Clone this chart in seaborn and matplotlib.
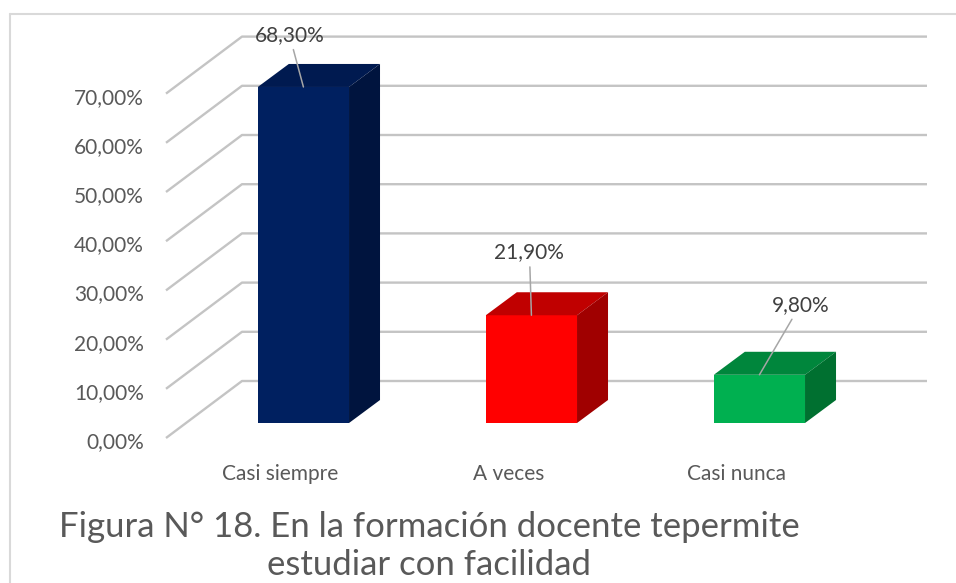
import numpy as np
import matplotlib.pyplot as plt
import seaborn as sns
from matplotlib.patches import Polygon
from matplotlib.lines import Line2D
from matplotlib.transforms import ScaledTranslation

categories = ['Casi siempre', 'A veces', 'Casi nunca']
values = [68.3, 21.9, 9.8]
value_labels = ['68,30%', '21,90%', '9,80%']
y_ticks = [0, 10, 20, 30, 40, 50, 60, 70]
y_tick_labels = ['0,00%', '10,00%', '20,00%', '30,00%', '40,00%', '50,00%', '60,00%', '70,00%']
title = 'Figura N° 18. En la formación docente tepermite\nestudiar con facilidad'

front_colors = ['#002060', '#FF0000', '#00B050']
top_colors = ['#001A50', '#C00000', '#00863C']
side_colors = ['#00143E', '#A00000', '#007030']
label_offsets = [(-14, 52), (-2, 63), (41, 70)]  # pixels from bar top

sns.set_theme(style='white')
plt.rcParams['font.family'] = ['Lato', 'DejaVu Sans']
txt_color = '#595959'

fig = plt.figure(figsize=(9.56, 5.83), dpi=100)
W, H = 956, 583
ax = fig.add_axes([186 / W, (583 - 423) / H, 685 / W, 344.4 / H])

sns.barplot(x=categories, y=values, hue=categories, palette=front_colors, legend=False,
            width=0.4, saturation=1, linewidth=0, ax=ax, zorder=2)

xl, xr = -0.515, -0.515 + 685 / 228
ax.set_xlim(xl, xr)
ax.set_ylim(0, 70)
px_x = 685 / (xr - xl)
px_y = 344.4 / 70

# gridlines: slanted side wall + back wall
for v in y_ticks:
    ax.plot([xl - 20 / px_x, xl + 56 / px_x, xr + 56 / px_x],
            [v - 15 / px_y, v + 42 / px_y, v + 42 / px_y],
            color='#C4C4C4', lw=1.7, clip_on=False, zorder=0.5, solid_capstyle='butt')

# 3D faces of the bars
ddx, ddy = 31 / px_x, 23 / px_y
for p, tc, sc in zip(ax.patches, top_colors, side_colors):
    x0, w, h = p.get_x(), p.get_width(), p.get_height()
    x1 = x0 + w
    ax.add_patch(Polygon([(x0, h), (x1, h), (x1 + ddx, h + ddy), (x0 + ddx, h + ddy)],
                         closed=True, fc=tc, ec='none', zorder=2, clip_on=False))
    ax.add_patch(Polygon([(x1, 0), (x1, h), (x1 + ddx, h + ddy), (x1 + ddx, ddy)],
                         closed=True, fc=sc, ec='none', zorder=2, clip_on=False))

# data labels with leader lines
for i, (v, lbl, off) in enumerate(zip(values, value_labels, label_offsets)):
    ax.annotate(lbl, xy=(i, v), xytext=off, textcoords='offset pixels',
                ha='center', va='center', fontsize=15, color='#404040', zorder=5,
                annotation_clip=False,
                arrowprops=dict(arrowstyle='-', color='#A6A6A6', lw=1.1, shrinkA=1, shrinkB=0))

ax.set_yticks(y_ticks)
ax.set_yticklabels(y_tick_labels, fontsize=15, color=txt_color)
ax.set_xticks(range(len(categories)))
ax.set_xticklabels(categories, fontsize=15, color=txt_color)
ax.tick_params(axis='y', length=0, pad=16)
ax.tick_params(axis='x', length=0, pad=19)
for lab in ax.get_yticklabels():
    lab.set_transform(lab.get_transform() + ScaledTranslation(-20 / 100, -17 / 100, fig.dpi_scale_trans))
for lab in ax.get_xticklabels():
    lab.set_transform(lab.get_transform() + ScaledTranslation(-23 / 100, -15 / 100, fig.dpi_scale_trans))
ax.set_xlabel('')
ax.set_ylabel('')
sns.despine(ax=ax, left=True, bottom=True)
ax.patch.set_alpha(0)

# chart border (top and left edges visible)
fig.add_artist(Line2D([10 / W, 1], [1 - 14 / H, 1 - 14 / H], color='#D9D9D9', lw=1.5))
fig.add_artist(Line2D([10 / W, 10 / W], [0, 1 - 14 / H], color='#D9D9D9', lw=1.5))

fig.text(429 / W, 1 - 546 / H, title, ha='center', va='center', fontsize=25,
         color=txt_color, linespacing=1.2)

fig.savefig('out.png', dpi=100)
